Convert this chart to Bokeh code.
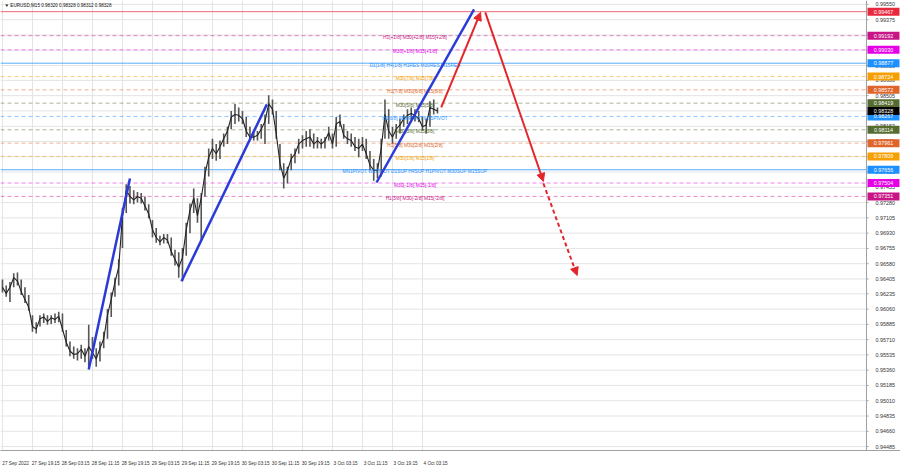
from bokeh.plotting import figure
from bokeh.models import (ColumnDataSource, FixedTicker, Label, Span, Arrow, NormalHead, Range1d)
from bokeh.core.properties import value
from bokeh.embed import file_html
from bokeh.resources import INLINE

TITLE_TEXT = "\u25bc EURUSD,M15  0.98320 0.98328 0.98312 0.98328"

# hourly groups of M15 bars (4 bars each)
hour = list(range(117))
high = [0.9640, 0.9633, 0.9637, 0.9647, 0.9648, 0.9640, 0.9631, 0.9622, 0.9599, 0.9591,
        0.9599, 0.9601, 0.9599, 0.9599, 0.9601, 0.9603, 0.9601, 0.9582, 0.9569, 0.9563,
        0.9561, 0.9565, 0.9561, 0.9588, 0.9574, 0.9561, 0.9569, 0.9580, 0.9606, 0.9625,
        0.9642, 0.9663, 0.9722, 0.9749, 0.9747, 0.9742, 0.9740, 0.9739, 0.9735, 0.9726,
        0.9708, 0.9699, 0.9690, 0.9692, 0.9692, 0.9688, 0.9674, 0.9671, 0.9676, 0.9705,
        0.9727, 0.9744, 0.9733, 0.9739, 0.9769, 0.9790, 0.9801, 0.9795, 0.9799, 0.9807,
        0.9815, 0.9833, 0.9841, 0.9837, 0.9833, 0.9826, 0.9815, 0.9810, 0.9810, 0.9818,
        0.9829, 0.9851, 0.9846, 0.9833, 0.9795, 0.9773, 0.9769, 0.9784, 0.9790, 0.9801,
        0.9805, 0.9810, 0.9812, 0.9807, 0.9803, 0.9801, 0.9803, 0.9815, 0.9807, 0.9826,
        0.9829, 0.9818, 0.9810, 0.9807, 0.9803, 0.9801, 0.9803, 0.9801, 0.9787, 0.9778,
        0.9773, 0.9801, 0.9846, 0.9835, 0.9815, 0.9818, 0.9824, 0.9829, 0.9835, 0.9837,
        0.9835, 0.9833, 0.9826, 0.9824, 0.9844, 0.9846, 0.9837]
low = [0.9625, 0.9620, 0.9614, 0.9631, 0.9633, 0.9622, 0.9613, 0.9604, 0.9580, 0.9578,
       0.9586, 0.9590, 0.9588, 0.9589, 0.9590, 0.9591, 0.9580, 0.9563, 0.9552, 0.9549,
       0.9547, 0.9549, 0.9545, 0.9540, 0.9549, 0.9540, 0.9546, 0.9561, 0.9572, 0.9597,
       0.9620, 0.9633, 0.9676, 0.9716, 0.9727, 0.9726, 0.9728, 0.9727, 0.9719, 0.9710,
       0.9688, 0.9682, 0.9679, 0.9681, 0.9681, 0.9667, 0.9656, 0.9642, 0.9638, 0.9667,
       0.9693, 0.9716, 0.9705, 0.9685, 0.9735, 0.9758, 0.9778, 0.9776, 0.9778, 0.9792,
       0.9795, 0.9812, 0.9818, 0.9821, 0.9818, 0.9803, 0.9799, 0.9799, 0.9799, 0.9801,
       0.9795, 0.9818, 0.9829, 0.9801, 0.9765, 0.9744, 0.9750, 0.9765, 0.9773, 0.9784,
       0.9790, 0.9792, 0.9792, 0.9790, 0.9790, 0.9790, 0.9790, 0.9799, 0.9790, 0.9792,
       0.9815, 0.9801, 0.9795, 0.9792, 0.9787, 0.9780, 0.9787, 0.9778, 0.9765, 0.9753,
       0.9756, 0.9758, 0.9801, 0.9801, 0.9795, 0.9801, 0.9807, 0.9815, 0.9818, 0.9821,
       0.9821, 0.9820, 0.9810, 0.9807, 0.9815, 0.9829, 0.9830]
close = [0.9631, 0.9624, 0.9631, 0.9642, 0.9638, 0.9626, 0.9617, 0.9608, 0.9586, 0.9583,
         0.9595, 0.9597, 0.9592, 0.9596, 0.9594, 0.9598, 0.9583, 0.9568, 0.9558, 0.9554,
         0.9555, 0.9560, 0.9552, 0.9563, 0.9556, 0.9549, 0.9561, 0.9572, 0.9599, 0.9617,
         0.9637, 0.9654, 0.9713, 0.9742, 0.9735, 0.9731, 0.9735, 0.9733, 0.9724, 0.9715,
         0.9697, 0.9688, 0.9683, 0.9688, 0.9685, 0.9672, 0.9663, 0.9654, 0.9665, 0.9697,
         0.9719, 0.9733, 0.9713, 0.9733, 0.9761, 0.9780, 0.9790, 0.9784, 0.9792, 0.9801,
         0.9810, 0.9826, 0.9829, 0.9828, 0.9824, 0.9810, 0.9803, 0.9803, 0.9805, 0.9812,
         0.9821, 0.9841, 0.9835, 0.9807, 0.9773, 0.9756, 0.9765, 0.9778, 0.9784, 0.9795,
         0.9799, 0.9801, 0.9803, 0.9795, 0.9799, 0.9795, 0.9799, 0.9808, 0.9795, 0.9818,
         0.9821, 0.9805, 0.9801, 0.9799, 0.9792, 0.9790, 0.9795, 0.9784, 0.9771, 0.9765,
         0.9765, 0.9790, 0.9829, 0.9810, 0.9803, 0.9812, 0.9817, 0.9824, 0.9828, 0.9830,
         0.9828, 0.9824, 0.9815, 0.9817, 0.9837, 0.9835, 0.98328]

x_tick_bars = [0, 32, 64, 96, 128, 160, 192, 224, 256, 288, 320, 352, 384, 416, 448]
x_tick_labels = ["27 Sep 2022", "27 Sep 19:15", "28 Sep 03:15", "28 Sep 11:15", "28 Sep 19:15",
                 "29 Sep 03:15", "29 Sep 11:15", "29 Sep 19:15", "30 Sep 03:15", "30 Sep 11:15",
                 "30 Sep 19:15", "3 Oct 03:15", "3 Oct 11:15", "3 Oct 19:15", "4 Oct 03:15"]
y_ticks = [0.99550, 0.99375, 0.99200, 0.99025, 0.98850, 0.98680, 0.98505, 0.98330, 0.98153,
           0.97980, 0.97805, 0.97630, 0.97455, 0.97280, 0.97105, 0.96930, 0.96755, 0.96580,
           0.96405, 0.96235, 0.96060, 0.95885, 0.95710, 0.95535, 0.95360, 0.95185, 0.95010,
           0.94835, 0.94660, 0.94485]
y_tick_labels = ["0.99550", "0.99375", "0.99200", "0.99025", "0.98850", "0.98680", "0.98505",
                 "0.98330", "0.98153", "0.97980", "0.97805", "0.97630", "0.97455", "0.97280",
                 "0.97105", "0.96930", "0.96755", "0.96580", "0.96405", "0.96235", "0.96060",
                 "0.95885", "0.95710", "0.95535", "0.95360", "0.95185", "0.95010", "0.94835",
                 "0.94660", "0.94485"]

level_prices = [0.99192, 0.99030, 0.98877, 0.98724, 0.98572, 0.98419, 0.98267,
                0.98114, 0.97961, 0.97809, 0.97656, 0.97504, 0.97351]
level_texts = ["H1[+1/8] M30[+2/8] M15[+2/8]", "M30[+1/8] M15[+1/8]",
               "D1[1/8] H4[1/8] H1RES M30RES M15RES", "M30[7/8] M15[7/8]",
               "H1[7/8] M30[6/8] M15[6/8]", "M30[5/8] M15[5/8]",
               "H1[6/8] M30PIVOT M15PIVOT", "M30[3/8] M15[3/8]",
               "H1[5/8] M30[2/8] M15[2/8]", "M30[1/8] M15[1/8]",
               "MN1PIVOT W1PIVOT D1SUP H4SUP H1PIVOT M30SUP M15SUP",
               "M30[-1/8] M15[-1/8]", "H1[3/8] M30[-2/8] M15[-2/8]"]
level_colors = ["#c71585", "#e600e6", "#1e90ff", "#f5a000", "#e0652a", "#556b2f", "#1e90ff",
                "#556b2f", "#e0652a", "#f5a000", "#1e90ff", "#e600e6", "#c71585"]
level_solid = [False, False, True, False, False, False, False,
               False, False, False, True, False, False]

top_price = 0.99467
top_color = "#e8283c"
current_price = 0.98328

blue_x0 = [92, 191, 399]
blue_y0 = [0.95369, 0.96378, 0.97510]
blue_x1 = [136, 282, 503]
blue_y1 = [0.97556, 0.98405, 0.99493]

red_x0 = [468, 515, 577]
red_y0 = [0.98371, 0.99459, 0.97499]
red_x1 = [510, 577, 613]
red_y1 = [0.99459, 0.97522, 0.96445]
red_dashed = [False, False, True]

# chart geometry in M15-bar units
LABEL_BAR = 440          # centre of the level captions
X_MIN, AXIS_BAR, X_END = -2.1, 921.6, 957.9   # left edge, price-scale line, right edge
Y_MIN, Y_MAX = 0.94440, 0.99595
FONT = "Liberation Sans"
GRID = "#e4e4e4"
AXIS_GRAY = "#a0a0a0"

p = figure(width=900, height=468, x_range=Range1d(X_MIN, X_END), y_range=Range1d(Y_MIN, Y_MAX),
           output_backend="svg", toolbar_location=None, y_axis_location=None,
           min_border_left=0, min_border_top=0, min_border_right=0, min_border_bottom=13)
p.styles = {"position": "absolute", "left": "0px", "top": "0px"}
p.background_fill_color = "white"
p.border_fill_color = "white"
p.outline_line_color = None

xa = p.xaxis[0]
xa.ticker = FixedTicker(ticks=[b + 14 for b in x_tick_bars])
xa.major_label_overrides = {b + 14: lab for b, lab in zip(x_tick_bars, x_tick_labels)}
xa.major_tick_line_color = None
xa.minor_tick_line_color = None
xa.axis_line_color = AXIS_GRAY
xa.major_label_text_font_size = "4.7px"
xa.major_label_text_font = FONT
xa.major_label_text_color = "#333333"
xa.major_label_standoff = 4

p.xgrid.ticker = FixedTicker(ticks=x_tick_bars)
p.xgrid.grid_line_color = GRID
p.ygrid.visible = False

# horizontal grid, up to the price scale
n_y = len(y_ticks)
p.segment(x0=[X_MIN] * n_y, y0=y_ticks, x1=[AXIS_BAR] * n_y, y1=y_ticks,
          line_color=GRID, line_width=1)

# price scale (right)
p.add_layout(Span(location=AXIS_BAR, dimension="height", line_color=AXIS_GRAY, line_width=1))
p.ray(x=[AXIS_BAR] * n_y, y=y_ticks, length=2, angle=0, length_units="screen",
      line_color=AXIS_GRAY, line_width=1)
p.text(x=[AXIS_BAR] * n_y, y=y_ticks, text=y_tick_labels, x_offset=9, text_align="left",
       text_baseline="middle", text_font=value(FONT), text_font_size="5.4px", text_color="#333333")

# level lines
p.segment(x0=[X_MIN], y0=[top_price], x1=[AXIS_BAR], y1=[top_price],
          line_color=top_color, line_width=1, line_alpha=0.7)
sol = [i for i, s in enumerate(level_solid) if s]
das = [i for i, s in enumerate(level_solid) if not s]
p.segment(x0=[X_MIN] * len(sol), y0=[level_prices[i] for i in sol],
          x1=[AXIS_BAR] * len(sol), y1=[level_prices[i] for i in sol],
          line_color=[level_colors[i] for i in sol], line_width=1, line_alpha=0.75)
p.segment(x0=[X_MIN] * len(das), y0=[level_prices[i] for i in das],
          x1=[AXIS_BAR] * len(das), y1=[level_prices[i] for i in das],
          line_color=[level_colors[i] for i in das], line_width=1, line_alpha=0.5,
          line_dash="4 3")

# price bars
bars = ColumnDataSource(dict(bar=[4 * h for h in hour], high=high, low=low, close=close))
p.segment(x0="bar", y0="low", x1="bar", y1="high", source=bars, line_color="#555555",
          line_width=1.6)
p.line(x="bar", y="close", source=bars, line_color="#222222", line_width=1.1)

# level captions
lv = ColumnDataSource(dict(x=[LABEL_BAR] * len(level_prices), y=level_prices,
                           t=level_texts, c=level_colors))
p.text(x="x", y="y", text="t", text_color="c", source=lv, text_align="center",
       text_baseline="middle", y_offset=2, text_font=value(FONT), text_font_size="4.8px")

# blue trend lines
p.segment(x0=blue_x0, y0=blue_y0, x1=blue_x1, y1=blue_y1, line_color="#2b3bd8", line_width=2.5)

# red projection arrows
RED = "#e3262b"
for xs, ys, xe, ye, d in zip(red_x0, red_y0, red_x1, red_y1, red_dashed):
    p.add_layout(Arrow(end=NormalHead(size=8, fill_color=RED, line_color=RED, line_width=1),
                       x_start=xs, y_start=ys, x_end=xe, y_end=ye, line_color=RED,
                       line_width=2, line_dash="4 3" if d else "solid"))

# price boxes on the right scale
box_prices = [top_price] + level_prices + [current_price]
box_colors = [top_color] + level_colors + ["#000000"]
box_texts = [f"{v:.5f}" for v in box_prices]
box_x = (AXIS_BAR + X_END) / 2
nb = len(box_prices)
p.rect(x=[box_x] * nb, y=box_prices, width=32, height=8, width_units="screen",
       height_units="screen", fill_color=box_colors, line_color=None)
p.text(x=[box_x] * nb, y=box_prices, text=box_texts, text_color="white", text_align="center",
       text_baseline="middle", text_font=value(FONT), text_font_size="5.4px")

p.add_layout(Label(x=X_MIN, y=Y_MAX, x_offset=4, y_offset=-5, text=TITLE_TEXT,
                   text_font=FONT, text_font_size="4.6px", text_color="#111111",
                   text_align="left", text_baseline="middle"))

open("out.html", "w").write(file_html(p, INLINE))
